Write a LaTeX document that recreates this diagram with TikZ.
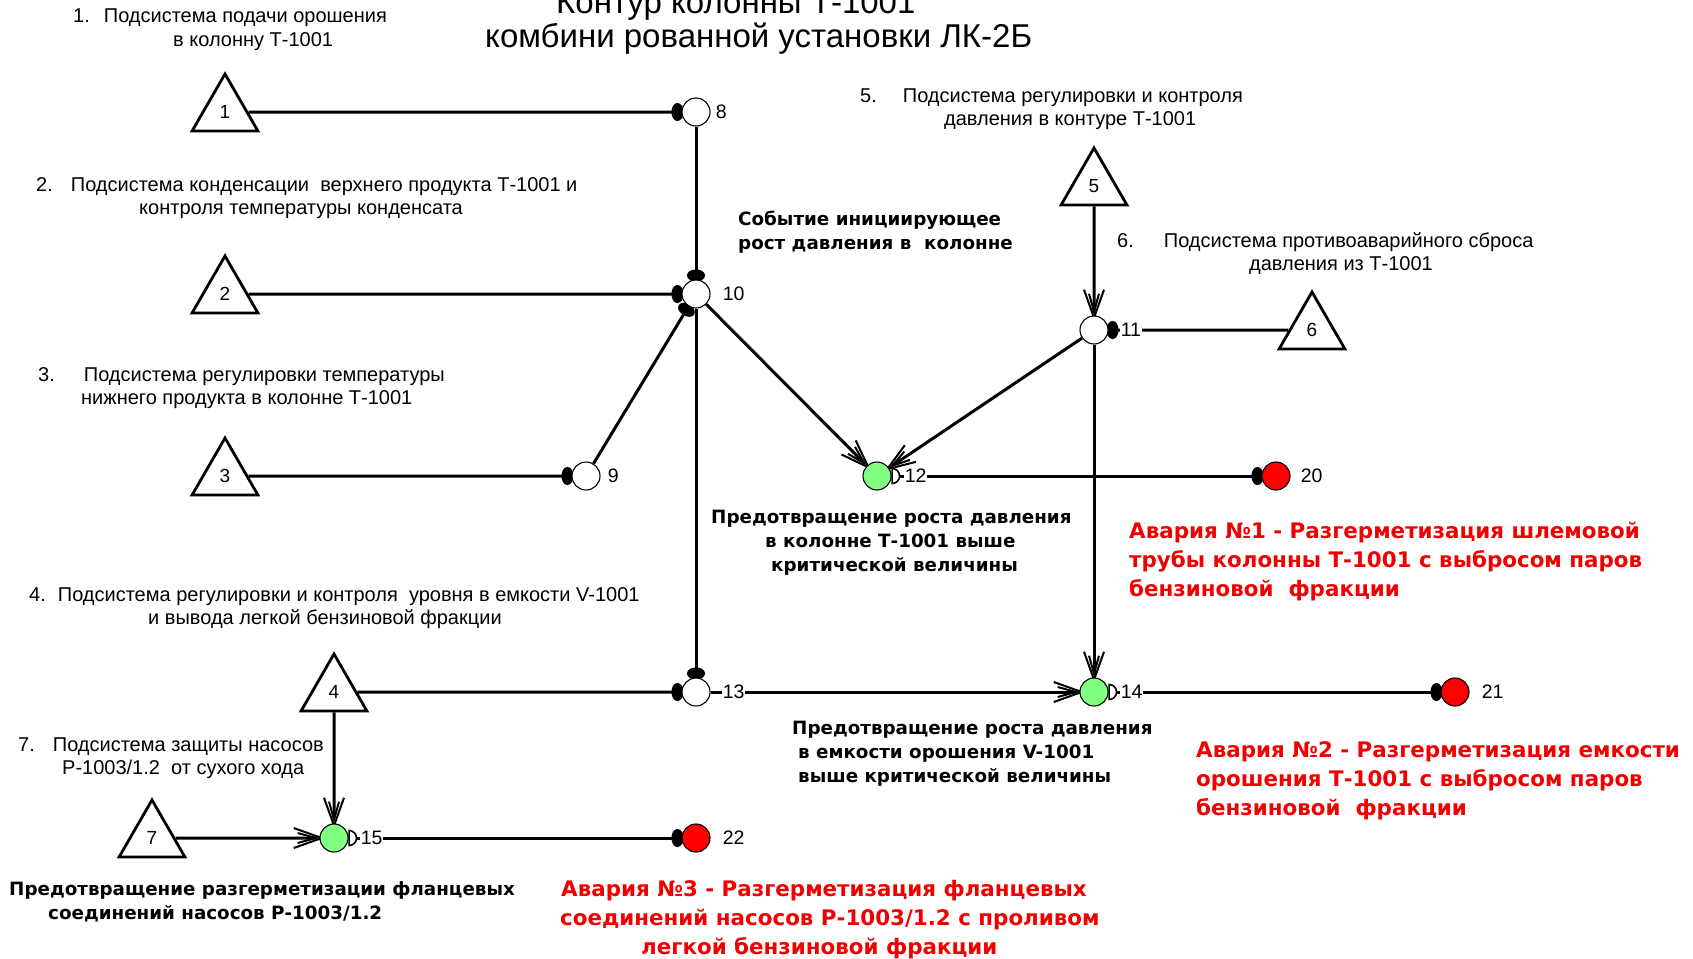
\documentclass[tikz,border=0pt]{standalone}
\usepackage{fontspec}
\setmainfont{Liberation Sans}
\newfontfamily\heavyfont{DejaVu Sans}
\usetikzlibrary{arrows.meta,shapes.geometric}
\pgfdeclarelayer{bg}
\pgfsetlayers{bg,main}
\definecolor{lampgreen}{RGB}{128,255,128}
\definecolor{alarmred}{RGB}{255,0,0}
\definecolor{alarmtext}{RGB}{240,0,0}
\tikzset{
  sub/.style={regular polygon, regular polygon sides=3, draw, line width=2.8pt,
    minimum size=76pt, inner sep=0pt, fill=white, font=\fontsize{19}{20}\selectfont},
  event/.style={circle, draw, line width=1.1pt, minimum size=28pt, inner sep=0pt},
  junction/.style={event, fill=white},
  barrier/.style={event, fill=lampgreen},
  accident/.style={event, fill=alarmred},
  num/.style={font=\fontsize{19.5}{20}\selectfont, inner sep=1pt, fill=white, anchor=west},
  link/.style={line width=3pt},
  feed/.style={link, -{Circle[length=12pt,width=18pt]}, shorten >=-2pt},
  flow/.style={link, -{Straight Barb[length=28pt,width=20pt,line width=2pt,sep=-28pt]
      Straight Barb[length=18pt,width=10pt,line width=2pt]}},
  tail/.style={line width=1.6pt},
  plain/.style={font=\fontsize{20}{23.5}\selectfont, inner sep=0pt, align=left, anchor=base west},
  strong/.style={font=\heavyfont\bfseries\fontsize{18.3}{24}\selectfont, inner sep=0pt, align=left, anchor=base west},
  alarm/.style={font=\heavyfont\bfseries\fontsize{21.4}{29}\selectfont, text=alarmtext, inner sep=0pt, align=left, anchor=base west},
  heading/.style={font=\fontsize{33}{34}\selectfont, inner sep=0pt, align=left, anchor=base west}
}
\begin{document}
\begin{tikzpicture}[x=1pt,y=-1pt]
\useasboundingbox (0,0) rectangle (1693,958);
\begin{pgfonlayer}{bg}
\fill[white] (0,0) rectangle (1693,958);
\end{pgfonlayer}

% title (anchored at the baseline of its last line)
\node[heading] (title) at (485,47.5) {\hspace*{71pt}Контур колонны Т-1001\\комбини рованной установки ЛК-2Б};

% subsystems
\node[sub] (t1) at (225,112) {1};
\node[sub] (t2) at (225,294) {2};
\node[sub] (t3) at (225,476) {3};
\node[sub] (t4) at (334,692) {4};
\node[sub] (t5) at (1094,186) {5};
\node[sub] (t6) at (1312,330) {6};
\node[sub] (t7) at (152,838) {7};

% events
\node[junction] (n8)  at (696,112) {};
\node[junction] (n9)  at (586,476) {};
\node[junction] (n10) at (696,294) {};
\node[junction] (n11) at (1094,330) {};
\node[barrier]  (n12) at (877,476) {};
\node[junction] (n13) at (696,692) {};
\node[barrier]  (n14) at (1094,692) {};
\node[barrier]  (n15) at (334,838) {};
\node[accident] (n20) at (1276,476) {};
\node[accident] (n21) at (1455,692) {};
\node[accident] (n22) at (696,838) {};

% connections
\begin{pgfonlayer}{bg}
\draw[feed] (t1) -- (n8);
\draw[feed] (n8) -- (n10);
\draw[feed] (t2) -- (n10);
\draw[feed] (n9) -- (n10);
\draw[feed] (t3) -- (n9);
\draw[flow] (n10) -- (n12);
\draw[flow] (n11) -- (n12);
\draw[feed] (n10) -- (n13);
\draw[feed] (t4) -- (n13);
\draw[flow] (n13) -- (n14);
\draw[flow] (t5) -- (n11);
\draw[feed] (t6) -- (n11);
\draw[flow] (n11) -- (n14);
\draw[feed] (n12) -- (n20);
\draw[feed] (n14) -- (n21);
\draw[flow] (t4) -- (n15);
\draw[flow] (t7) -- (n15);
\draw[feed] (n15) -- (n22);
\end{pgfonlayer}

% outlet marks of the barriers
\foreach \b in {n12,n14,n15}
  \draw[tail, fill=white] ([xshift=0.5pt,yshift=7.5pt]\b.east) arc[start angle=90,end angle=-90,radius=7.5pt] -- cycle;

% event numbers
\node[num] (l8)  at ([xshift=4pt]n8.east) {8};
\node[num] (l9)  at ([xshift=6pt]n9.east) {9};
\node[num] (l10) at ([xshift=11pt]n10.east) {10};
\node[num] (l11) at ([xshift=11pt]n11.east) {11};
\node[num] (l12) at ([xshift=12pt]n12.east) {12};
\node[num] (l13) at ([xshift=11pt]n13.east) {13};
\node[num] (l14) at ([xshift=11pt]n14.east) {14};
\node[num] (l15) at ([xshift=11pt]n15.east) {15};
\node[num] (l20) at ([xshift=9pt]n20.east) {20};
\node[num] (l21) at ([xshift=11pt]n21.east) {21};
\node[num] (l22) at ([xshift=11pt]n22.east) {22};

% subsystem captions (anchored at the baseline of the last line)
\node[plain] (c1) at (73,46.5) {1.\hspace{14pt}Подсистема подачи орошения\\\hspace*{100pt}в колонну Т-1001};
\node[plain] (c2) at (36,214.5) {2.\hspace{18pt}Подсистема конденсации\ \ верхнего продукта Т-1001 и\\\hspace*{103pt}контроля температуры конденсата};
\node[plain] (c3) at (38,404.5) {3.\hspace{29pt}Подсистема регулировки температуры\\\hspace*{43pt}нижнего продукта в колонне Т-1001};
\node[plain] (c4) at (29,624.5) {4.\hspace{12pt}Подсистема регулировки и контроля\ \ уровня в емкости V-1001\\\hspace*{119pt}и вывода легкой бензиновой фракции};
\node[plain] (c5) at (860,125.5) {5.\hspace{26pt}Подсистема регулировки и контроля\\\hspace*{84pt}давления в контуре Т-1001};
\node[plain] (c6) at (1117,270.5) {6.\hspace{30pt}Подсистема противоаварийного сброса\\\hspace*{132pt}давления из Т-1001};
\node[plain] (c7) at (18,774.5) {7.\hspace{18pt}Подсистема защиты насосов\\\hspace*{44pt}Р-1003/1.2\ \ от сухого хода};

% event captions
\node[strong] (e10) at (738,249) {Событие инициирующее\\рост давления в\ \ колонне};
\node[strong] (e12) at (711,571) {Предотвращение роста давления\\\hspace*{54pt}в колонне Т-1001 выше\\\hspace*{60pt}критической величины};
\node[strong] (e14) at (792,782) {Предотвращение роста давления\\\hspace*{6pt}в емкости орошения V-1001\\\hspace*{6pt}выше критической величины};
\node[strong] (e15) at (9,919) {Предотвращение разгерметизации фланцевых\\\hspace*{39pt}соединений насосов Р-1003/1.2};

% accident captions
\node[alarm] (a1) at (1129,596) {Авария №1 - Разгерметизация шлемовой\\трубы колонны Т-1001 с выбросом паров\\бензиновой\ \ фракции};
\node[alarm] (a2) at (1196,815) {Авария №2 - Разгерметизация емкости\\орошения Т-1001 с выбросом паров\\бензиновой\ \ фракции};
\node[alarm] (a3) at (560,954) {\hspace*{1pt}Авария №3 - Разгерметизация фланцевых\\соединений насосов Р-1003/1.2 с проливом\\\hspace*{81pt}легкой бензиновой фракции};
\end{tikzpicture}
\end{document}
